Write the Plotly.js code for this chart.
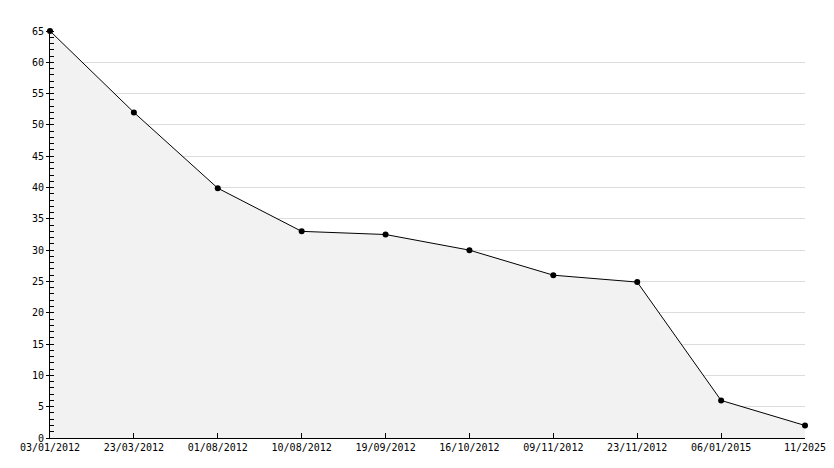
<!DOCTYPE html>
<html><head><meta charset="utf-8">
<script src="https://cdn.plot.ly/plotly-3.0.1.min.js"></script>
<style>html,body{margin:0;padding:0;background:#fff}#chart{width:834px;height:468px}</style>
</head><body><div id="chart"></div>
<script>
const dates = ["03/01/2012","23/03/2012","01/08/2012","10/08/2012","19/09/2012","16/10/2012","09/11/2012","23/11/2012","06/01/2015","11/2025"];
const values = [65, 52, 39.9, 33, 32.5, 30, 26, 24.9, 6, 2];
const yTicks = [0,5,10,15,20,25,30,35,40,45,50,55,60,65];

const font = {family: "DejaVu Sans Mono, monospace", size: 10, color: "#000"};
Plotly.newPlot("chart", [{
  x: dates, y: values, type: "scatter", mode: "lines+markers",
  fill: "tozeroy", fillcolor: "#f2f2f2",
  line: {color: "#000", width: 1},
  marker: {color: "#000", size: 6, symbol: "circle"},
  hoverinfo: "x+y", cliponaxis: false
}], {
  width: 834, height: 468,
  margin: {l: 50, r: 29, t: 31, b: 30},
  paper_bgcolor: "#fff", plot_bgcolor: "#fff",
  showlegend: false, font: font,
  xaxis: {type: "category", range: [0, dates.length - 1], showgrid: false, zeroline: false,
    showline: true, linecolor: "#000", linewidth: 1,
    ticks: "inside", ticklen: 5, tickcolor: "#000", tickfont: font, fixedrange: true},
  yaxis: {range: [0, 65], tickvals: yTicks, showgrid: true, gridcolor: "#dcdcdc", gridwidth: 1,
    zeroline: false, showline: true, linecolor: "#000", linewidth: 1,
    ticks: "outside", ticklen: 3, tickcolor: "#000", tickfont: font, fixedrange: true,
    minor: {dtick: 1, ticks: "inside", ticklen: 4, tickcolor: "#000", showgrid: false}}
}, {staticPlot: true});
</script></body></html>
